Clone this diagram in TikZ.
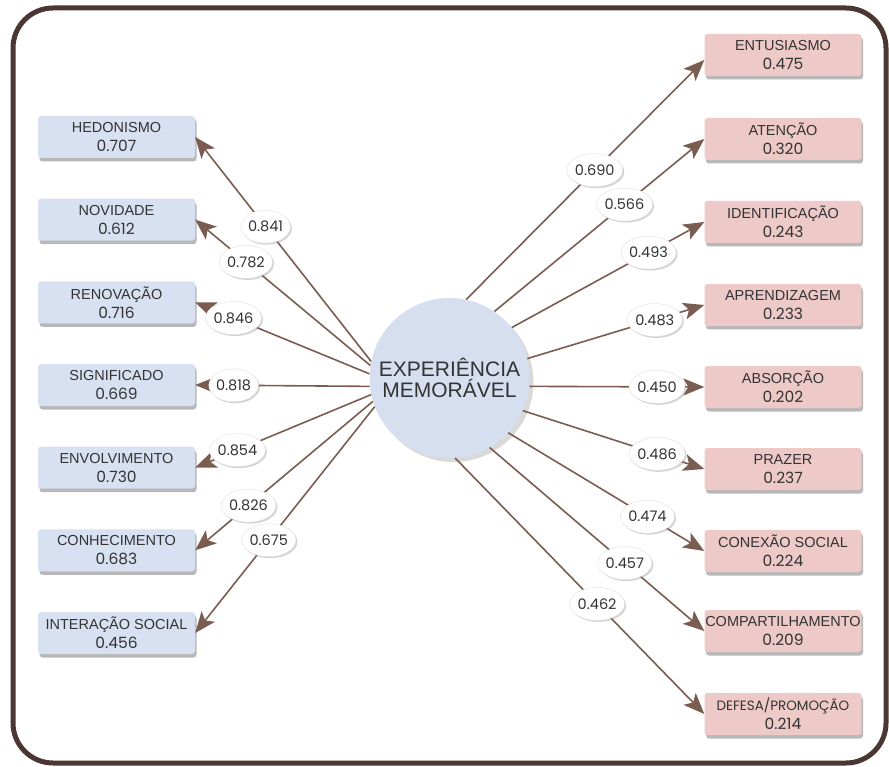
\documentclass[tikz,border=0pt]{standalone}
\usepackage{fontspec}
\setmainfont{Liberation Sans}
\newfontfamily\numfont{Poppins}
\usetikzlibrary{arrows.meta,shapes.geometric,shadows}
\definecolor{framec}{HTML}{4A3733}
\definecolor{connc}{HTML}{7A5C50}
\definecolor{bluebox}{HTML}{D8E1F1}
\definecolor{pinkbox}{HTML}{EDC9C7}
\definecolor{circc}{HTML}{D6DFF0}
\definecolor{txtc}{HTML}{333333}
\tikzset{
  box/.style={rectangle, rounded corners=3pt, minimum width=157pt, minimum height=42pt,
    inner sep=0pt, align=center, text=txtc, font=\fontsize{14.5}{19}\selectfont,
    drop shadow={shadow xshift=1.5pt, shadow yshift=-3.5pt, fill=black, opacity=0.28}},
  lbox/.style={box, fill=bluebox},
  rbox/.style={box, fill=pinkbox},
  conn/.style={draw=connc, line width=1.6pt, -{Stealth[length=21pt,width=17pt,inset=5pt]}},
  lbl/.style={ellipse, fill=white, draw=gray!25, line width=0.4pt, minimum width=47pt, minimum height=33pt,
    inner sep=0pt, text=txtc, font=\numfont\fontsize{14.5}{16}\selectfont,
    drop shadow={shadow xshift=1.5pt, shadow yshift=-1.5pt, fill=gray, opacity=0.35}},
  hub/.style={circle, fill=circc, minimum size=160pt, inner sep=0pt, align=center, text=txtc,
    font=\fontsize{21}{21.5}\selectfont,
    drop shadow={shadow xshift=4pt, shadow yshift=-4pt, fill=gray, opacity=0.3}}
}
\newcommand{\nv}[1]{{\numfont\fontsize{15.5}{19}\selectfont #1}}
\begin{document}
\begin{tikzpicture}[x=1pt,y=-1pt]
\useasboundingbox (0,0) rectangle (889,767);
\draw[framec, line width=5pt, rounded corners=40pt] (13,8) rectangle (886,763);

% hub
\node[hub] (c) at (449.5,378) {EXPERIÊNCIA\\MEMORÁVEL};

% left boxes
\node[lbox] (hedo) at (116.5,137)   {HEDONISMO\\\nv{0.707}};
\node[lbox] (novi) at (116.5,219.7) {NOVIDADE\\\nv{0.612}};
\node[lbox] (reno) at (116.5,302.3) {RENOVAÇÃO\\\nv{0.716}};
\node[lbox] (sign) at (116.5,385)   {SIGNIFICADO\\\nv{0.669}};
\node[lbox] (envo) at (116.5,467.7) {ENVOLVIMENTO\\\nv{0.730}};
\node[lbox] (conh) at (116.5,550.3) {CONHECIMENTO\\\nv{0.683}};
\node[lbox] (inte) at (116.5,633)   {INTERAÇÃO SOCIAL\\\nv{0.456}};

% right boxes
\node[rbox] (entu) at (783,55)  {ENTUSIASMO\\\nv{0.475}};
\node[rbox] (aten) at (783,139) {ATENÇÃO\\\nv{0.320}};
\node[rbox] (iden) at (783,222) {IDENTIFICAÇÃO\\\nv{0.243}};
\node[rbox] (apre) at (783,305) {APRENDIZAGEM\\\nv{0.233}};
\node[rbox] (abso) at (783,387) {ABSORÇÃO\\\nv{0.202}};
\node[rbox] (praz) at (783,469) {PRAZER\\\nv{0.237}};
\node[rbox] (cone) at (783,551) {CONEXÃO SOCIAL\\\nv{0.224}};
\node[rbox] (comp) at (783,631) {COMPARTILHAMENTO\\\nv{0.209}};
\node[rbox] (defe) at (783,714) {{\numfont\fontsize{13.5}{19}\selectfont DEFESA/PROMOÇÃO}\\\nv{0.214}};

% left connectors
\draw[conn] (c.168.6) -- coordinate[pos=0.60] (l1) (hedo.east);
\draw[conn] (c.171.4) -- coordinate[pos=0.71] (l2) (novi.east);
\draw[conn] (c.177.8) -- coordinate[pos=0.78] (l3) (reno.east);
\draw[conn] (c.186.5) -- coordinate[pos=0.78] (l4) (sign.east);
\draw[conn] (c.192.1) -- coordinate[pos=0.76] (l5) (envo.east);
\draw[conn] (c.197.2) -- coordinate[pos=0.70] (l6) (conh.east);
\draw[conn] (c.201)   -- coordinate[pos=0.59] (l7) (inte.east);

% right connectors
\draw[conn] (c.78.9)  -- coordinate[pos=0.54] (r1) ([yshift=-5pt]entu.west);
\draw[conn] (c.56.4)  -- coordinate[pos=0.62] (r2) (aten.west);
\draw[conn] (c.39.7)  -- coordinate[pos=0.71] (r3) (iden.west);
\draw[conn] (c.14.5)  -- coordinate[pos=0.72] (r4) (apre.west);
\draw[conn] (c.-6.5)  -- coordinate[pos=0.73] (r5) (abso.west);
\draw[conn] (c.-24.8) -- coordinate[pos=0.74] (r6) (praz.west);
\draw[conn] (c.-43.7) -- coordinate[pos=0.71] (r7) (cone.west);
\draw[conn] (c.-60)   -- coordinate[pos=0.63] (r8) (comp.west);
\draw[conn] (c.-86)   -- coordinate[pos=0.57] (r9) (defe.west);

% labels
\node[lbl] (t1) at (l1) {0.841};
\node[lbl] (t2) at (l2) {0.782};
\node[lbl] (t3) at (l3) {0.846};
\node[lbl] (t4) at (l4) {0.818};
\node[lbl] (t5) at (l5) {0.854};
\node[lbl] (t6) at (l6) {0.826};
\node[lbl] (t7) at (l7) {0.675};
\node[lbl] (s1) at (r1) {0.690};
\node[lbl] (s2) at (r2) {0.566};
\node[lbl] (s3) at (r3) {0.493};
\node[lbl] (s4) at (r4) {0.483};
\node[lbl] (s5) at (r5) {0.450};
\node[lbl] (s6) at (r6) {0.486};
\node[lbl] (s7) at (r7) {0.474};
\node[lbl] (s8) at (r8) {0.457};
\node[lbl] (s9) at (r9) {0.462};
\end{tikzpicture}
\end{document}
